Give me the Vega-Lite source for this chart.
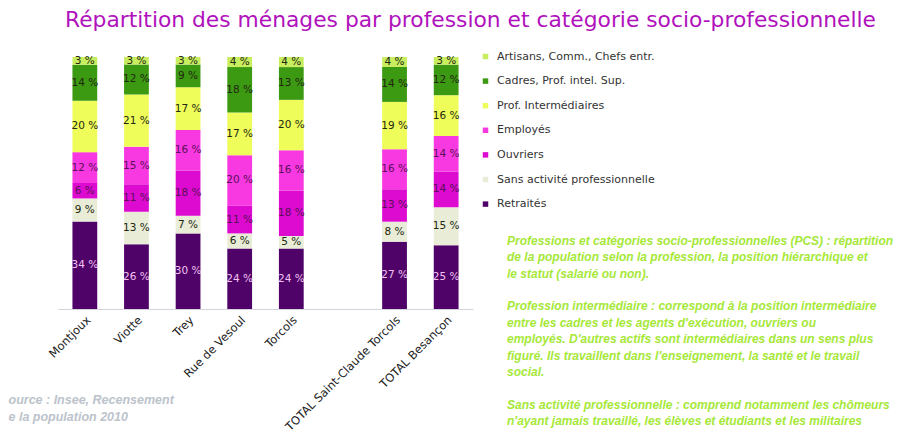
{
  "$schema": "https://vega.github.io/schema/vega-lite/v6.json",
  "padding": {"left": 8, "top": 10, "right": 0, "bottom": 0},
  "background": "white",
  "bounds": "flush",
  "spacing": 34,
  "title": {
    "text": "Répartition des ménages par profession et catégorie socio-professionnelle",
    "anchor": "start",
    "frame": "group",
    "dx": 7,
    "font": "DejaVu Sans",
    "fontSize": 21.8,
    "fontWeight": "normal",
    "color": "#B012BC",
    "offset": 19
  },
  "resolve": {"scale": {"color": "independent"}},
  "hconcat": [
    {
      "width": 415,
      "height": 252,
      "data": {
        "values": [
          {"s": "Montjoux", "c": "Retraités", "v": 34, "o": 1},
          {"s": "Montjoux", "c": "Sans activité professionnelle", "v": 9, "o": 2},
          {"s": "Montjoux", "c": "Ouvriers", "v": 6, "o": 3},
          {"s": "Montjoux", "c": "Employés", "v": 12, "o": 4},
          {"s": "Montjoux", "c": "Prof. Intermédiaires", "v": 20, "o": 5},
          {"s": "Montjoux", "c": "Cadres, Prof. intel. Sup.", "v": 14, "o": 6},
          {"s": "Montjoux", "c": "Artisans, Comm., Chefs entr.", "v": 3, "o": 7},
          {"s": "Viotte", "c": "Retraités", "v": 26, "o": 1},
          {"s": "Viotte", "c": "Sans activité professionnelle", "v": 13, "o": 2},
          {"s": "Viotte", "c": "Ouvriers", "v": 11, "o": 3},
          {"s": "Viotte", "c": "Employés", "v": 15, "o": 4},
          {"s": "Viotte", "c": "Prof. Intermédiaires", "v": 21, "o": 5},
          {"s": "Viotte", "c": "Cadres, Prof. intel. Sup.", "v": 12, "o": 6},
          {"s": "Viotte", "c": "Artisans, Comm., Chefs entr.", "v": 3, "o": 7},
          {"s": "Trey", "c": "Retraités", "v": 30, "o": 1},
          {"s": "Trey", "c": "Sans activité professionnelle", "v": 7, "o": 2},
          {"s": "Trey", "c": "Ouvriers", "v": 18, "o": 3},
          {"s": "Trey", "c": "Employés", "v": 16, "o": 4},
          {"s": "Trey", "c": "Prof. Intermédiaires", "v": 17, "o": 5},
          {"s": "Trey", "c": "Cadres, Prof. intel. Sup.", "v": 9, "o": 6},
          {"s": "Trey", "c": "Artisans, Comm., Chefs entr.", "v": 3, "o": 7},
          {"s": "Rue de Vesoul", "c": "Retraités", "v": 24, "o": 1},
          {"s": "Rue de Vesoul", "c": "Sans activité professionnelle", "v": 6, "o": 2},
          {"s": "Rue de Vesoul", "c": "Ouvriers", "v": 11, "o": 3},
          {"s": "Rue de Vesoul", "c": "Employés", "v": 20, "o": 4},
          {"s": "Rue de Vesoul", "c": "Prof. Intermédiaires", "v": 17, "o": 5},
          {"s": "Rue de Vesoul", "c": "Cadres, Prof. intel. Sup.", "v": 18, "o": 6},
          {"s": "Rue de Vesoul", "c": "Artisans, Comm., Chefs entr.", "v": 4, "o": 7},
          {"s": "Torcols", "c": "Retraités", "v": 24, "o": 1},
          {"s": "Torcols", "c": "Sans activité professionnelle", "v": 5, "o": 2},
          {"s": "Torcols", "c": "Ouvriers", "v": 18, "o": 3},
          {"s": "Torcols", "c": "Employés", "v": 16, "o": 4},
          {"s": "Torcols", "c": "Prof. Intermédiaires", "v": 20, "o": 5},
          {"s": "Torcols", "c": "Cadres, Prof. intel. Sup.", "v": 13, "o": 6},
          {"s": "Torcols", "c": "Artisans, Comm., Chefs entr.", "v": 4, "o": 7},
          {"s": "TOTAL Saint-Claude Torcols", "c": "Retraités", "v": 27, "o": 1},
          {"s": "TOTAL Saint-Claude Torcols", "c": "Sans activité professionnelle", "v": 8, "o": 2},
          {"s": "TOTAL Saint-Claude Torcols", "c": "Ouvriers", "v": 13, "o": 3},
          {"s": "TOTAL Saint-Claude Torcols", "c": "Employés", "v": 16, "o": 4},
          {"s": "TOTAL Saint-Claude Torcols", "c": "Prof. Intermédiaires", "v": 19, "o": 5},
          {"s": "TOTAL Saint-Claude Torcols", "c": "Cadres, Prof. intel. Sup.", "v": 14, "o": 6},
          {"s": "TOTAL Saint-Claude Torcols", "c": "Artisans, Comm., Chefs entr.", "v": 4, "o": 7},
          {"s": "TOTAL Besançon", "c": "Retraités", "v": 25, "o": 1},
          {"s": "TOTAL Besançon", "c": "Sans activité professionnelle", "v": 15, "o": 2},
          {"s": "TOTAL Besançon", "c": "Ouvriers", "v": 14, "o": 3},
          {"s": "TOTAL Besançon", "c": "Employés", "v": 14, "o": 4},
          {"s": "TOTAL Besançon", "c": "Prof. Intermédiaires", "v": 16, "o": 5},
          {"s": "TOTAL Besançon", "c": "Cadres, Prof. intel. Sup.", "v": 12, "o": 6},
          {"s": "TOTAL Besançon", "c": "Artisans, Comm., Chefs entr.", "v": 3, "o": 7}
        ]
      },
      "encoding": {
        "x": {
          "field": "s",
          "type": "nominal",
          "scale": {
            "domain": ["Montjoux", "Viotte", "Trey", "Rue de Vesoul", "Torcols", " ", "TOTAL Saint-Claude Torcols", "TOTAL Besançon"],
            "paddingInner": 0.52,
            "paddingOuter": 0.28
          },
          "axis": {
            "labelAngle": -45,
            "labelAlign": "right",
            "labelBaseline": "top",
            "labelFont": "DejaVu Sans",
            "labelFontSize": 11.5,
            "labelColor": "#222222",
            "labelPadding": 5,
            "ticks": false,
            "grid": false,
            "domainColor": "#D4D4DC",
            "title": ["ource : Insee, Recensement", "e la population 2010"],
            "titleX": -50,
            "titleY": 90,
            "titleAlign": "left",
            "titleBaseline": "middle",
            "titleAngle": 0,
            "titleFont": "Liberation Sans",
            "titleFontStyle": "italic",
            "titleFontWeight": "bold",
            "titleFontSize": 12.5,
            "titleColor": "#BCC3CB",
            "titleLineHeight": 17
          }
        }
      },
      "layer": [
        {
          "mark": {"type": "bar"},
          "encoding": {
            "y": {
              "field": "v",
              "type": "quantitative",
              "stack": "normalize",
              "scale": {"domain": [0, 1]},
              "title": null,
              "axis": {
                "format": ".0%",
                "values": [0, 0.2, 0.4, 0.6, 0.8, 1],
                "grid": true,
                "gridColor": "#DADAE2",
                "domain": false,
                "ticks": false,
                "labelFont": "DejaVu Sans",
                "labelFontSize": 10,
                "labelColor": "#333333",
                "labelPadding": 10
              }
            },
            "order": {"field": "o", "type": "quantitative"},
            "color": {
              "field": "c",
              "type": "nominal",
              "scale": {
                "domain": ["Artisans, Comm., Chefs entr.", "Cadres, Prof. intel. Sup.", "Prof. Intermédiaires", "Employés", "Ouvriers", "Sans activité professionnelle", "Retraités"],
                "range": ["#C8EE60", "#3C9912", "#EFFD5A", "#F838E0", "#DD0AD0", "#E9EDD8", "#4F0368"]
              },
              "legend": {
                "orient": "none",
                "legendX": 422,
                "legendY": -6,
                "title": null,
                "symbolType": "square",
                "symbolSize": 30,
                "symbolStrokeWidth": 0,
                "labelFont": "DejaVu Sans",
                "labelFontSize": 11,
                "labelColor": "#333333",
                "labelOffset": 6,
                "rowPadding": 12.6
              }
            }
          }
        },
        {
          "transform": [
            {"stack": "v", "groupby": ["s"], "sort": [{"field": "o", "order": "ascending"}], "offset": "normalize", "as": ["y0", "y1"]},
            {"fold": ["y0", "y1"], "as": ["k", "yy"]},
            {"aggregate": [{"op": "mean", "field": "yy", "as": "ym"}], "groupby": ["s", "c", "v", "o"]}
          ],
          "mark": {
            "type": "text",
            "font": "DejaVu Sans",
            "fontSize": 10.5,
            "baseline": "middle",
            "text": {"expr": "datum.v + ' %'"}
          },
          "encoding": {
            "y": {"field": "ym", "type": "quantitative", "title": null, "axis": null},
            "color": {
              "condition": [
                {"test": "datum.c === 'Retraités'", "value": "#F2C2F2"},
                {"test": "datum.c === 'Employés' || datum.c === 'Ouvriers'", "value": "#5A1058"}
              ],
              "value": "#222810"
            }
          }
        }
      ]
    },
    {
      "width": 378,
      "height": 252,
      "data": {
        "values": [
          {"i": 0, "t": "Professions et catégories socio-professionnelles (PCS) : répartition"},
          {"i": 1, "t": "de la population selon la profession, la position hiérarchique et"},
          {"i": 2, "t": "le statut (salarié ou non)."},
          {"i": 4, "t": "Profession intermédiaire : correspond à la position intermédiaire"},
          {"i": 5, "t": "entre les cadres et les agents d'exécution, ouvriers ou"},
          {"i": 6, "t": "employés. D'autres actifs sont intermédiaires dans un sens plus"},
          {"i": 7, "t": "figuré. Ils travaillent dans l'enseignement, la santé et le travail"},
          {"i": 8, "t": "social."},
          {"i": 10, "t": "Sans activité professionnelle : comprend notamment les chômeurs"},
          {"i": 11, "t": "n'ayant jamais travaillé, les élèves et étudiants et les militaires"}
        ]
      },
      "mark": {
        "type": "text",
        "align": "left",
        "baseline": "middle",
        "font": "Liberation Sans",
        "fontStyle": "italic",
        "fontWeight": "bold",
        "fontSize": 12,
        "color": "#A6E838"
      },
      "encoding": {
        "x": {"datum": 0, "type": "quantitative", "scale": {"domain": [0, 1]}, "axis": null},
        "y": {"field": "i", "type": "quantitative", "scale": {"domain": [0, 11], "range": [184, 364]}, "axis": null},
        "text": {"field": "t"}
      }
    }
  ],
  "config": {
    "view": {"stroke": null}
  }
}
